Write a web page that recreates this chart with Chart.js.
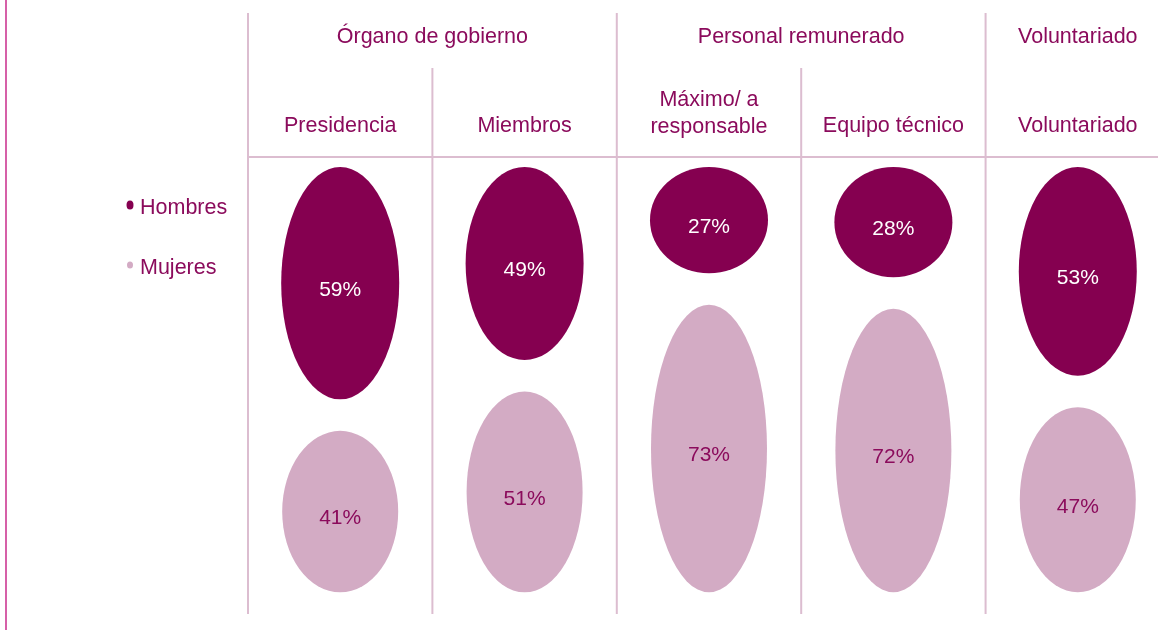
<!DOCTYPE html>
<html>
<head>
<meta charset="utf-8">
<script src="https://cdn.jsdelivr.net/npm/chart.js@4/dist/chart.umd.min.js"></script>
<style>
  html, body { margin: 0; padding: 0; background: #fff; }
  #wrap { position: relative; width: 1158px; height: 630px; }
</style>
</head>
<body>
<div id="wrap"><canvas id="chart" width="1158" height="630"></canvas></div>
<script>
// datos
const categories = ["Presidencia", "Miembros", ["Máximo/ a", "responsable"], "Equipo técnico", "Voluntariado"];
const hombres = [59, 49, 27, 28, 53];
const mujeres = [41, 51, 73, 72, 47];
const groupNames = ["Órgano de gobierno", "Personal remunerado", "Voluntariado"];
const groupFirst = [0, 2, 4];
const groupLast = [1, 3, 4];
const seriesNames = ["Hombres", "Mujeres"];

const DARK = "#850050";
const LIGHT = "#d3abc4";
const TEXT = "#8b0b5c";
const GRID = "#dcbdd0";
const FONT = "21.5px 'Liberation Sans', Arial, sans-serif";
const FONT_PCT = "21px 'Liberation Sans', Arial, sans-serif";
const GAP = 8; // separación entre las dos elipses (en unidades %)

const hData = hombres.map((v, i) => ({ x: i, y: [0, v] }));
const mData = mujeres.map((v, i) => ({ x: i, y: [hombres[i] + GAP, hombres[i] + GAP + v] }));

const ellipses = {
  id: "ellipses",
  beforeDatasetDraw(chart, args) {
    const { ctx } = chart;
    const ds = chart.data.datasets[args.index];
    const values = args.index === 0 ? hombres : mujeres;
    args.meta.data.forEach((bar, i) => {
      const top = Math.min(bar.y, bar.base);
      const bottom = Math.max(bar.y, bar.base);
      const cy = (top + bottom) / 2;
      ctx.save();
      ctx.fillStyle = ds.backgroundColor;
      ctx.beginPath();
      ctx.ellipse(bar.x, cy, bar.width / 2, (bottom - top) / 2, 0, 0, Math.PI * 2);
      ctx.fill();
      ctx.fillStyle = args.index === 0 ? "#ffffff" : TEXT;
      ctx.font = FONT_PCT;
      ctx.textAlign = "center";
      ctx.textBaseline = "middle";
      ctx.fillText(values[i] + "%", bar.x, cy + 7);
      ctx.restore();
    });
    return false;
  }
};

const frame = {
  id: "frame",
  beforeDraw(chart) {
    const { ctx, chartArea } = chart;
    const x = chart.scales.x;
    const px = v => x.getPixelForValue(v);
    ctx.save();
    // línea lateral
    ctx.strokeStyle = "#d660a8";
    ctx.lineWidth = 2;
    ctx.beginPath(); ctx.moveTo(6, 0); ctx.lineTo(6, chart.height); ctx.stroke();

    ctx.strokeStyle = GRID;
    ctx.lineWidth = 2;
    // separadores de grupo
    groupFirst.forEach(g => {
      ctx.beginPath(); ctx.moveTo(px(g - 0.5), 13); ctx.lineTo(px(g - 0.5), chartArea.bottom); ctx.stroke();
    });
    // separadores dentro de grupo
    groupFirst.forEach((g, k) => {
      for (let c = g + 1; c <= groupLast[k]; c++) {
        ctx.beginPath(); ctx.moveTo(px(c - 0.5), 68); ctx.lineTo(px(c - 0.5), chartArea.bottom); ctx.stroke();
      }
    });
    ctx.beginPath(); ctx.moveTo(px(-0.5), 157); ctx.lineTo(chart.width, 157); ctx.stroke();

    // cabeceras
    ctx.fillStyle = TEXT;
    ctx.font = FONT;
    ctx.textAlign = "center";
    ctx.textBaseline = "middle";
    groupNames.forEach((n, k) => {
      const cx = (px(groupFirst[k]) + px(groupLast[k])) / 2;
      ctx.fillText(n, cx, 37);
    });
    categories.forEach((c, i) => {
      if (Array.isArray(c)) {
        ctx.fillText(c[0], px(i), 100);
        ctx.fillText(c[1], px(i), 127);
      } else {
        ctx.fillText(c, px(i), 126);
      }
    });

    // leyenda
    ctx.textAlign = "left";
    [DARK, LIGHT].forEach((col, k) => {
      const y = k === 0 ? 206 : 266;
      ctx.fillStyle = col;
      ctx.beginPath();
      ctx.ellipse(130, y - 1, k === 0 ? 3.5 : 3, k === 0 ? 4.5 : 3.5, 0, 0, Math.PI * 2);
      ctx.fill();
      ctx.fillStyle = TEXT;
      ctx.fillText(seriesNames[k], 140, y + 2);
    });
    ctx.restore();
  }
};

new Chart(document.getElementById("chart"), {
  type: "bar",
  data: {
    datasets: [
      { label: seriesNames[0], data: hData, backgroundColor: DARK, grouped: false, barThickness: 118 },
      { label: seriesNames[1], data: mData, backgroundColor: LIGHT, grouped: false, barThickness: 116 }
    ]
  },
  options: {
    responsive: false,
    animation: false,
    layout: { padding: { left: 248, right: 0, top: 167, bottom: 16 } },
    plugins: { legend: { display: false }, tooltip: { enabled: false } },
    scales: {
      x: { type: "linear", min: -0.5, max: 4.435, offset: false, display: false },
      y: { min: 0, max: 113.5, reverse: true, display: false }
    }
  },
  plugins: [frame, ellipses]
});
</script>
</body>
</html>
